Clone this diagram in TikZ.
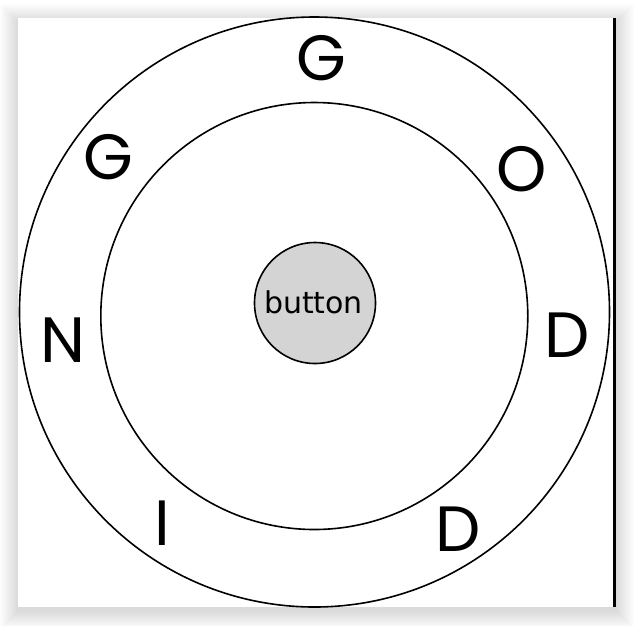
\documentclass[tikz,border=0pt]{standalone}
\usepackage{fontspec}
\newfontfamily\letterfont{Poppins}
\newfontfamily\buttonfont{DejaVu Sans}
\usetikzlibrary{positioning}

\begin{document}
\begin{tikzpicture}[x=1pt, y=-1pt,
  ring/.style={draw, circle, line width=1.6pt, inner sep=0pt},
  letter/.style={inner sep=0pt, font=\letterfont\fontsize{64}{64}\selectfont}]
  \useasboundingbox (0,0) rectangle (636,625);
  \fill[white] (0,0) rectangle (636,625);

  % page with its shadow
  \foreach \i in {1,...,18}
    \fill[black, opacity=0.009] (18-\i,22-\i) rectangle (616+\i,611+\i);
  \fill[white] (18,18) rectangle (616,607);
  \draw[line width=3pt] (614.5,18) -- (614.5,607);

  \node[ring, minimum size=590pt] (outer) at (314.5,312) {};
  \node[ring, minimum size=427pt] (inner) at (314.3,316) {};
  \node[ring, fill=black!17, minimum size=121pt] (button) at (315,303) {};
  \node[inner sep=0pt, font=\buttonfont\fontsize{30}{30}\selectfont] (label) at (313.5,302.5) {button};

  \node[letter] (g1) at (321,58)  {G};
  \node[letter] (o)  at (522,169) {O};
  \node[letter] (d1) at (567,335) {D};
  \node[letter] (d2) at (458,529) {D};
  \node[letter] (i)  at (162,523) {I};
  \node[letter] (n)  at (63,340)  {N};
  \node[letter] (g2) at (108.5,157) {G};
\end{tikzpicture}
\end{document}
